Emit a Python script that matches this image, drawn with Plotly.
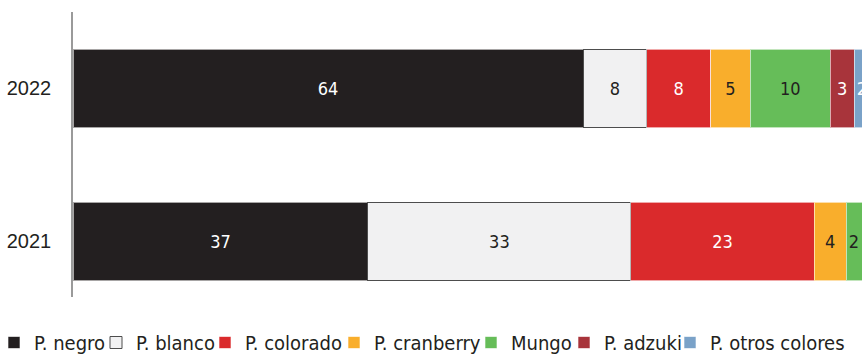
import plotly.graph_objects as go

# Shares by bean type (%), per year
years = ["2021", "2022"]
series = ["P. negro", "P. blanco", "P. colorado", "P. cranberry", "Mungo", "P. adzuki", "P. otros colores"]
values = {
    "P. negro":         [37, 64],
    "P. blanco":        [33, 8],
    "P. colorado":      [23, 8],
    "P. cranberry":     [4, 5],
    "Mungo":            [2, 10],
    "P. adzuki":        [0, 3],
    "P. otros colores": [0, 2],
}

colors = {
    "P. negro": "#231f20",
    "P. blanco": "#f1f1f2",
    "P. colorado": "#da2a2c",
    "P. cranberry": "#f9ae2c",
    "Mungo": "#66bd59",
    "P. adzuki": "#a8343b",
    "P. otros colores": "#7aa2c8",
}
text_colors = {
    "P. negro": "white",
    "P. blanco": "#231f20",
    "P. colorado": "white",
    "P. cranberry": "#231f20",
    "Mungo": "#231f20",
    "P. adzuki": "white",
    "P. otros colores": "white",
}

# left edge of each legend entry, in page pixels
legend_x = [4, 106, 215, 344, 481, 574, 680]

COND = "DejaVu Sans Condensed"
fig = go.Figure()
for i, name in enumerate(series):
    vals = values[name]
    labels = [str(v) if v > 0 else "" for v in vals]
    edge = "#4d4d4d" if name == "P. blanco" else "rgba(255,255,255,0.6)"
    fig.add_trace(go.Bar(
        name=name,
        y=years,
        x=vals,
        orientation="h",
        width=0.516,
        marker=dict(color=colors[name], line=dict(color=edge, width=1)),
        text=labels,
        textposition="inside",
        insidetextanchor="middle",
        textangle=0,
        constraintext="none",
        textfont=dict(family=COND, size=18, color=text_colors[name]),
        legend="legend" if i == 0 else f"legend{i + 1}",
        hoverinfo="skip",
    ))

layout_legends = {}
for i, lx in enumerate(legend_x):
    key = "legend" if i == 0 else f"legend{i + 1}"
    layout_legends[key] = dict(
        xref="container", yref="container",
        x=lx / 862, y=1 - 323 / 354,
        xanchor="left", yanchor="top",
        orientation="h",
        indentation=-10,
        font=dict(family=COND, size=20, color="#231f20"),
        bgcolor="rgba(0,0,0,0)",
        borderwidth=0,
        itemclick=False, itemdoubleclick=False,
    )

fig.update_layout(
    width=862, height=354,
    margin=dict(l=73, r=0, t=12, b=57),
    barmode="stack",
    paper_bgcolor="white", plot_bgcolor="white",
    showlegend=True,
    xaxis=dict(range=[0, 99], visible=False, fixedrange=True),
    yaxis=dict(
        type="category",
        categoryorder="array", categoryarray=years,
        range=[-0.363, 1.5],
        showline=True, linecolor="#9a9a9a", linewidth=1.5,
        showgrid=False, zeroline=False,
        ticks="", ticklabelstandoff=16,
        tickfont=dict(family="Liberation Sans", size=20, color="#231f20"),
        fixedrange=True,
    ),
    **layout_legends,
)

fig.write_html("out.html")
